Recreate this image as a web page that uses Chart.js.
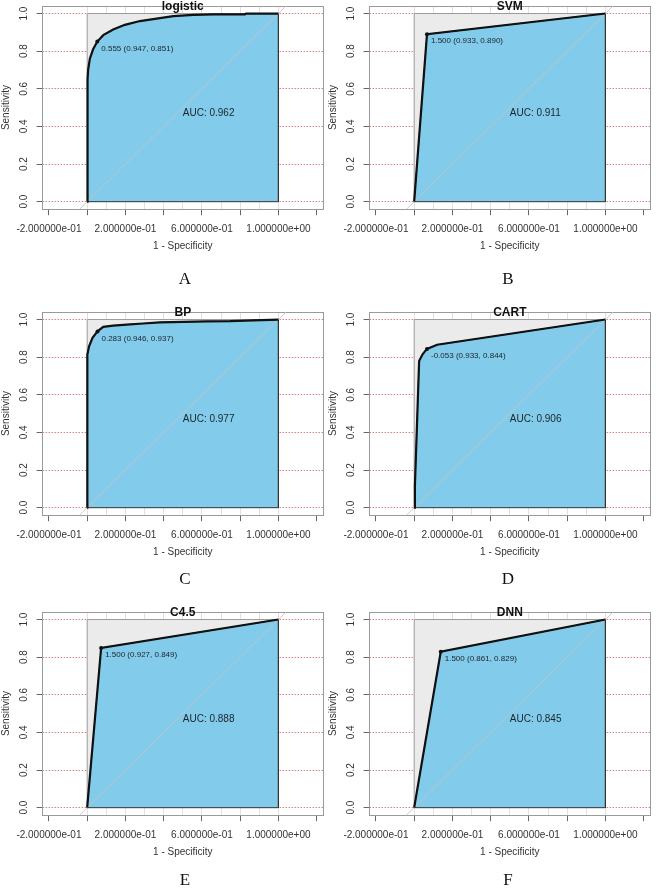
<!DOCTYPE html>
<html>
<head>
<meta charset="utf-8">
<script src="https://cdn.jsdelivr.net/npm/chart.js@4.4.1/dist/chart.umd.min.js"></script>
<style>
  html, body { margin: 0; padding: 0; background: #fff; }
  #page { position: relative; width: 656px; height: 889px; overflow: hidden; }
  .panel { position: absolute; width: 328px; height: 283px; }
  .panel canvas { position: absolute; left: 0; top: 0; }
  .title { position: absolute; left: 182.8px; top: -1px; transform: translateX(-50%);
           font: bold 12px 'Liberation Sans', Arial, sans-serif; line-height: 14px; color: #111; white-space: nowrap; }
  .letter { position: absolute; transform: translateX(-50%);
            font: 17px 'Liberation Serif', 'Times New Roman', serif; line-height: 20px; color: #111; }
</style>
</head>
<body>
<div id="page"></div>
<script>
// models, in panel order A-F
const models = ['logistic', 'SVM', 'BP', 'CART', 'C4.5', 'DNN'];
const panelLetters = ['A', 'B', 'C', 'D', 'E', 'F'];
const aucValues = [0.962, 0.911, 0.977, 0.906, 0.888, 0.845];

// best threshold printed on each curve: threshold (specificity, sensitivity)
const bestThreshold = [0.555, 1.500, 0.283, -0.053, 1.500, 1.500];
const bestSpecificity = [0.947, 0.933, 0.946, 0.933, 0.927, 0.861];
const bestSensitivity = [0.851, 0.890, 0.937, 0.844, 0.849, 0.829];

// ROC curves (1 - specificity, sensitivity)
const logisticFpr = [0, 0.002, 0.005, 0.014, 0.031, 0.053, 0.084, 0.136, 0.197, 0.276, 0.363, 0.45, 0.555, 0.66, 0.825, 0.83, 1];
const logisticTpr = [0, 0.65, 0.70, 0.76, 0.81, 0.851, 0.885, 0.915, 0.94, 0.96, 0.973, 0.986, 0.993, 0.996, 0.996, 1, 1];
const svmFpr = [0, 0.067, 1];
const svmTpr = [0, 0.890, 1];
const bpFpr = [0, 0.001, 0.01, 0.028, 0.054, 0.084, 0.136, 0.206, 0.293, 0.38, 0.503, 0.625, 0.747, 0.869, 1];
const bpTpr = [0, 0.814, 0.858, 0.903, 0.937, 0.961, 0.968, 0.973, 0.979, 0.985, 0.988, 0.99, 0.991, 0.996, 1];
const cartFpr = [0, 0.004, 0.026, 0.044, 0.067, 0.12, 1];
const cartTpr = [0, 0.12, 0.78, 0.815, 0.844, 0.866, 1];
const c45Fpr = [0, 0.073, 1];
const c45Tpr = [0, 0.849, 1];
const dnnFpr = [0, 0.139, 1];
const dnnTpr = [0, 0.829, 1];

// perfect classifier (grey max-AUC square)
const perfectFpr = [0, 0, 1];
const perfectTpr = [0, 1, 1];

// axes
const X_MIN = -0.233, X_MAX = 1.233, Y_MIN = -0.04, Y_MAX = 1.04;
const xTickValues = [-0.2, 0, 0.2, 0.4, 0.6, 0.8, 1.0, 1.2];
const xTickLabels = ['-2.000000e-01', '', '2.000000e-01', '', '6.000000e-01', '', '1.000000e+00', ''];
const yTickValues = [0, 0.2, 0.4, 0.6, 0.8, 1.0];
const yTickLabels = ['0.0', '0.2', '0.4', '0.6', '0.8', '1.0'];
const vGridValues = [0, 0.1, 0.2, 0.3, 0.4, 0.5, 0.6, 0.7, 0.8, 0.9, 1.0];
const chanceLine = [Y_MIN, Y_MAX];
const AUC_LABEL_AT = 0.5;

const curves = [
  [logisticFpr, logisticTpr], [svmFpr, svmTpr], [bpFpr, bpTpr],
  [cartFpr, cartTpr], [c45Fpr, c45Tpr], [dnnFpr, dnnTpr]
];

const FONT = "'Liberation Sans', Arial, sans-serif";
Chart.defaults.font.family = FONT;
Chart.defaults.font.size = 10;
Chart.defaults.color = '#333';

const colLeft = [0, 327];
const rowTop = [0, 306, 606];
const letterX = [185, 181];
const letterY = [279, 272.5, 273.5];

const toPoints = (xs, ys) => xs.map((x, k) => ({x: x, y: ys[k]}));
// close a curve down to the x axis so it can be filled as a polygon
const toShape = pts => pts.concat([{x: pts[pts.length - 1].x, y: 0}]);

const rocText = {
  id: 'rocText',
  afterDatasetsDraw(chart, args, opts) {
    const {ctx, scales: {x, y}} = chart;
    const pt = chart.getDatasetMeta(5).data[0];
    ctx.save();
    ctx.fillStyle = '#1d2429';
    ctx.textAlign = 'left';
    ctx.textBaseline = 'middle';
    ctx.font = '8px ' + FONT;
    ctx.fillText(opts.best, pt.x + 4, pt.y + 7);
    ctx.font = '10px ' + FONT;
    ctx.fillText(opts.auc, x.getPixelForValue(AUC_LABEL_AT), y.getPixelForValue(AUC_LABEL_AT) + 6);
    ctx.restore();
  }
};

function buildScales() {
  return {
    x: {
      type: 'linear', position: 'bottom', min: X_MIN, max: X_MAX,
      afterBuildTicks: s => { s.ticks = xTickValues.map(v => ({value: v})); },
      afterFit: s => { s.height = 44; s.paddingLeft = 0; s.paddingRight = 0; },
      ticks: { autoSkip: false, minRotation: 0, maxRotation: 0, padding: 8, color: '#333',
               callback: (v, k) => xTickLabels[k] },
      grid: { drawOnChartArea: false, drawTicks: true, tickLength: 6, color: '#666', tickColor: '#666' },
      border: { display: true, color: '#9a9a9a', width: 1 },
      title: { display: true, text: '1 - Specificity', color: '#333', font: {size: 10},
               padding: {top: 0, bottom: 0.5} }
    },
    y: {
      type: 'linear', position: 'left', min: Y_MIN, max: Y_MAX,
      afterBuildTicks: s => { s.ticks = yTickValues.map(v => ({value: v})); },
      afterFit: s => { s.width = 42.6; s.paddingTop = 0; s.paddingBottom = 0; },
      ticks: { autoSkip: false, minRotation: 90, maxRotation: 90, crossAlign: 'center', padding: 5.6,
               color: '#333', callback: (v, k) => yTickLabels[k] },
      grid: { drawOnChartArea: false, drawTicks: true, tickLength: 6, color: '#666', tickColor: '#666' },
      border: { display: true, color: '#9a9a9a', width: 1 },
      title: { display: true, text: 'Sensitivity', color: '#333', font: {size: 10},
               padding: {top: 0, bottom: 0} }
    },
    xg: {
      type: 'linear', position: 'top', min: X_MIN, max: X_MAX,
      afterBuildTicks: s => { s.ticks = vGridValues.map(v => ({value: v})); },
      afterFit: s => { s.height = 0; s.paddingLeft = 0; s.paddingRight = 0; },
      ticks: { display: false },
      grid: { drawOnChartArea: true, drawTicks: false, color: '#e0e0e0', lineWidth: 1 },
      border: { display: true, color: '#9a9a9a', width: 1 }
    },
    yg: {
      type: 'linear', position: 'right', min: Y_MIN, max: Y_MAX,
      afterBuildTicks: s => { s.ticks = yTickValues.map(v => ({value: v})); },
      afterFit: s => { s.width = 0; s.paddingTop = 0; s.paddingBottom = 0; },
      ticks: { display: false },
      grid: { drawOnChartArea: true, drawTicks: false, color: 'rgb(214,128,128)', lineWidth: 1,
              borderDash: [1.5, 1.5] },
      border: { display: true, color: '#9a9a9a', width: 1, dash: [1.5, 1.5] }
    }
  };
}

const page = document.getElementById('page');

models.forEach((name, i) => {
  const col = i % 2, row = Math.floor(i / 2);
  const wrap = document.createElement('div');
  wrap.className = 'panel';
  wrap.style.left = colLeft[col] + 'px';
  wrap.style.top = rowTop[row] + 'px';
  const canvas = document.createElement('canvas');
  canvas.width = 328;
  canvas.height = 283;
  wrap.appendChild(canvas);
  const title = document.createElement('div');
  title.className = 'title';
  title.textContent = name;
  wrap.appendChild(title);
  const letter = document.createElement('div');
  letter.className = 'letter';
  letter.textContent = panelLetters[i];
  letter.style.left = letterX[col] + 'px';
  letter.style.top = (letterY[row] - 10) + 'px';
  wrap.appendChild(letter);
  page.appendChild(wrap);

  const roc = toPoints(curves[i][0], curves[i][1]);
  const perfect = toPoints(perfectFpr, perfectTpr);
  const base = [{x: roc[0].x, y: 0}, {x: roc[roc.length - 1].x, y: 0}];
  const chance = chanceLine.map(v => ({x: v, y: v}));
  const best = [{x: 1 - bestSpecificity[i], y: bestSensitivity[i]}];

  const bestLabel = bestThreshold[i].toFixed(3) + ' (' + bestSpecificity[i].toFixed(3) + ', ' +
                    bestSensitivity[i].toFixed(3) + ')';

  new Chart(canvas, {
    type: 'line',
    data: {
      datasets: [
        { data: toShape(perfect), fill: 'shape', backgroundColor: '#ebebeb', borderColor: '#9c9c9c',
          borderWidth: 1, pointRadius: 0, tension: 0, order: 6 },
        { data: toShape(roc), fill: 'shape', backgroundColor: 'rgb(130,203,234)', borderColor: '#333',
          borderWidth: 1, pointRadius: 0, tension: 0, order: 5 },
        { data: base, fill: false, borderColor: '#333', borderWidth: 1, pointRadius: 0, order: 4 },
        { data: chance, fill: false, borderColor: 'rgba(196,196,196,0.9)', borderWidth: 1, pointRadius: 0, order: 3 },
        { data: roc, fill: false, borderColor: '#111', borderWidth: 2.2, pointRadius: 0, tension: 0, order: 2 },
        { data: best, showLine: false, pointRadius: 2, pointBackgroundColor: '#111', pointBorderWidth: 0, order: 1 }
      ]
    },
    options: {
      responsive: false,
      animation: false,
      events: [],
      layout: { padding: { top: 6, right: 5, bottom: 29.8, left: 0 } },
      plugins: {
        legend: { display: false },
        tooltip: { enabled: false },
        rocText: { best: bestLabel, auc: 'AUC: ' + aucValues[i].toFixed(3) }
      },
      scales: buildScales()
    },
    plugins: [rocText]
  });
});
</script>
</body>
</html>
